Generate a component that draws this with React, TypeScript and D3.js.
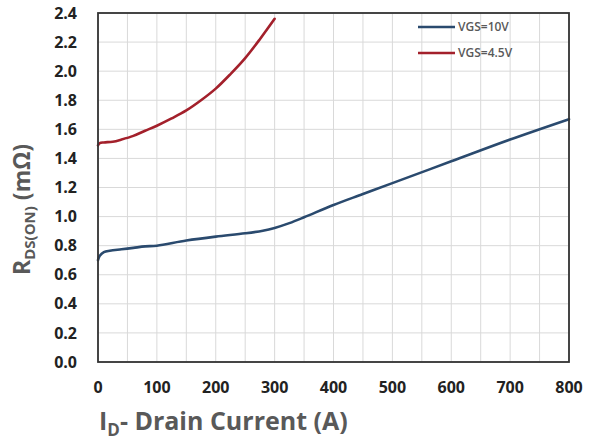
import React from "react";
import * as d3 from "d3";

const yTicks = [0, 0.2, 0.4, 0.6, 0.8, 1.0, 1.2, 1.4, 1.6, 1.8, 2.0, 2.2, 2.4];
const xTicks = [0, 100, 200, 300, 400, 500, 600, 700, 800];
const xGrid = [0, 50, 100, 150, 200, 250, 300, 350, 400, 450, 500, 550, 600, 650, 700, 750, 800];

const vgs10Id = [0, 3, 10, 20, 40, 60, 80, 100, 150, 200, 250, 280, 300, 325, 350, 400, 450, 500, 600, 700, 800];
const vgs10R = [0.70, 0.73, 0.755, 0.765, 0.775, 0.785, 0.795, 0.80, 0.835, 0.862, 0.885, 0.903, 0.922, 0.955, 0.995, 1.08, 1.155, 1.23, 1.38, 1.53, 1.67];

const vgs45Id = [0, 3, 10, 25, 40, 60, 80, 100, 125, 150, 175, 200, 225, 250, 275, 300];
const vgs45R = [1.49, 1.505, 1.51, 1.515, 1.53, 1.555, 1.59, 1.625, 1.675, 1.73, 1.80, 1.88, 1.98, 2.09, 2.22, 2.36];

const seriesNames = ["VGS=10V", "VGS=4.5V"];
const seriesColors = ["#2a4a6e", "#a3202b"];

export default function App() {
  const W = 593, H = 441;
  const left = 98, right = 569, top = 13, bottom = 362;
  const x = d3.scaleLinear().domain([0, 800]).range([left, right]);
  const y = d3.scaleLinear().domain([0, 2.4]).range([bottom, top]);
  const line = d3
    .line<[number, number]>()
    .x((d) => x(d[0]))
    .y((d) => y(d[1]))
    .curve(d3.curveCatmullRom.alpha(0.5));
  const s10 = vgs10Id.map((v, i) => [v, vgs10R[i]] as [number, number]);
  const s45 = vgs45Id.map((v, i) => [v, vgs45R[i]] as [number, number]);
  const series = [s10, s45];
  const font = "'Open Sans', 'Liberation Sans', Arial, sans-serif";

  return (
    <svg width={W} height={H} style={{ position: "absolute", left: 0, top: 0, background: "#fff" }} fontFamily={font}>
      <rect x={0} y={0} width={W} height={H} fill="#fff" />
      {xGrid.map((g) => (
        <line key={"xg" + g} x1={x(g)} x2={x(g)} y1={top} y2={bottom} stroke="#d9d9d9" strokeWidth={1} />
      ))}
      {yTicks.map((t) => (
        <line key={"yg" + t} x1={left} x2={right} y1={y(t)} y2={y(t)} stroke="#d9d9d9" strokeWidth={1} />
      ))}
      {series.map((s, i) => (
        <path key={"s" + i} d={line(s) || ""} fill="none" stroke={seriesColors[i]} strokeWidth={2.6} strokeLinejoin="round" strokeLinecap="round" />
      ))}
      <rect x={left} y={top} width={right - left} height={bottom - top} fill="none" stroke="#333" strokeWidth={1.8} />
      {yTicks.map((t) => (
        <text key={"yt" + t} x={77} y={y(t)} dy="0.35em" textAnchor="end" fontSize={16} fontWeight="bold" fill="#222">
          {d3.format(".1f")(t)}
        </text>
      ))}
      {xTicks.map((t) => (
        <text key={"xt" + t} x={x(t)} y={387} dy="0.35em" textAnchor="middle" fontSize={16} fontWeight="bold" fill="#222">
          {t}
        </text>
      ))}
      {seriesNames.map((n, i) => (
        <g key={"lg" + i}>
          <line x1={418} x2={455} y1={27 + i * 26} y2={27 + i * 26} stroke={seriesColors[i]} strokeWidth={2.6} />
          <text x={458} y={27 + i * 26} dy="0.35em" fontSize={12} fill="#595959" fontWeight="600">
            {n}
          </text>
        </g>
      ))}
      <text x={99} y={430} fontSize={25} fontWeight="bold" fill="#595959">
        I<tspan fontSize={17} dy={6}>D</tspan>
        <tspan dy={-6}>- Drain Current (A)</tspan>
      </text>
      <text transform="translate(30,275) rotate(-90)" fontSize={23} fontWeight="bold" fill="#595959">
        R<tspan fontSize={15} dy={5}>DS(ON)</tspan>
        <tspan dy={-5}> (mΩ)</tspan>
      </text>
    </svg>
  );
}
